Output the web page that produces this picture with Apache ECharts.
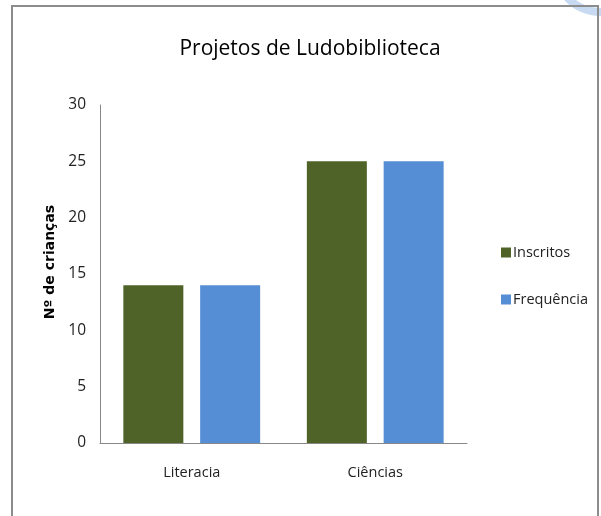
<!DOCTYPE html>
<html><head><meta charset="utf-8">
<script src="https://cdn.jsdelivr.net/npm/echarts@6/dist/echarts.min.js"></script>
<style>html,body{margin:0;padding:0;background:#fff}#c{width:601px;height:516px}</style>
</head><body><div id="c"></div>
<script>
var categories = ['Literacia', 'Ciências'];
var inscritos = [14, 25];
var frequencia = [14, 25];
var seriesNames = ['Inscritos', 'Frequência'];
var FONT = '"Liberation Sans Narrow", "Open Sans", sans-serif';
var chart = echarts.init(document.getElementById('c'));
chart.setOption({
  animation: false,
  title: {text: 'Projetos de Ludobiblioteca', left: 305, top: 34, textAlign: 'center',
    textStyle: {fontFamily: FONT, fontSize: 21, fontWeight: 'normal', color: '#000'}},
  graphic: [
    {type: 'ring', shape: {cx: 600, cy: -32, r: 48, r0: 40}, style: {fill: '#c8daf2'}, z: -1},
    {type: 'rect', shape: {x: 12, y: 6, width: 586, height: 520}, style: {fill: 'none', stroke: '#8c8c8c', lineWidth: 2}, z: 10}
  ],
  legend: {orient: 'vertical', left: 496, top: 240, itemWidth: 10, itemHeight: 10, itemGap: 32,
    icon: 'rect', textStyle: {fontFamily: FONT, fontSize: 14.5, color: '#222', padding: [0,0,0,-3]},
    data: seriesNames},
  grid: {left: 100, top: 105, width: 367, height: 338, containLabel: false},
  xAxis: {type: 'category', data: categories,
    axisLine: {lineStyle: {color: '#888', width: 1}}, axisTick: {show: false},
    axisLabel: {fontFamily: FONT, fontSize: 14.5, color: '#222', margin: 22}},
  yAxis: {type: 'value', min: 0, max: 30, interval: 5,
    name: 'Nº de crianças', nameLocation: 'middle', nameGap: 32,
    nameTextStyle: {fontFamily: '"DejaVu Sans", sans-serif', fontSize: 14, fontWeight: 'bold', color: '#000', padding: [0, 0, 0, 24]},
    axisLine: {show: true, lineStyle: {color: '#888', width: 1}}, axisTick: {show: false},
    splitLine: {show: false},
    axisLabel: {fontFamily: FONT, fontSize: 15.5, color: '#222', margin: 14}},
  series: [
    {name: seriesNames[0], type: 'bar', data: inscritos, barWidth: 60, barGap: '28%', itemStyle: {color: '#4f6228'}},
    {name: seriesNames[1], type: 'bar', data: frequencia, barWidth: 60, itemStyle: {color: '#558ed5'}}
  ]
});
</script></body></html>
